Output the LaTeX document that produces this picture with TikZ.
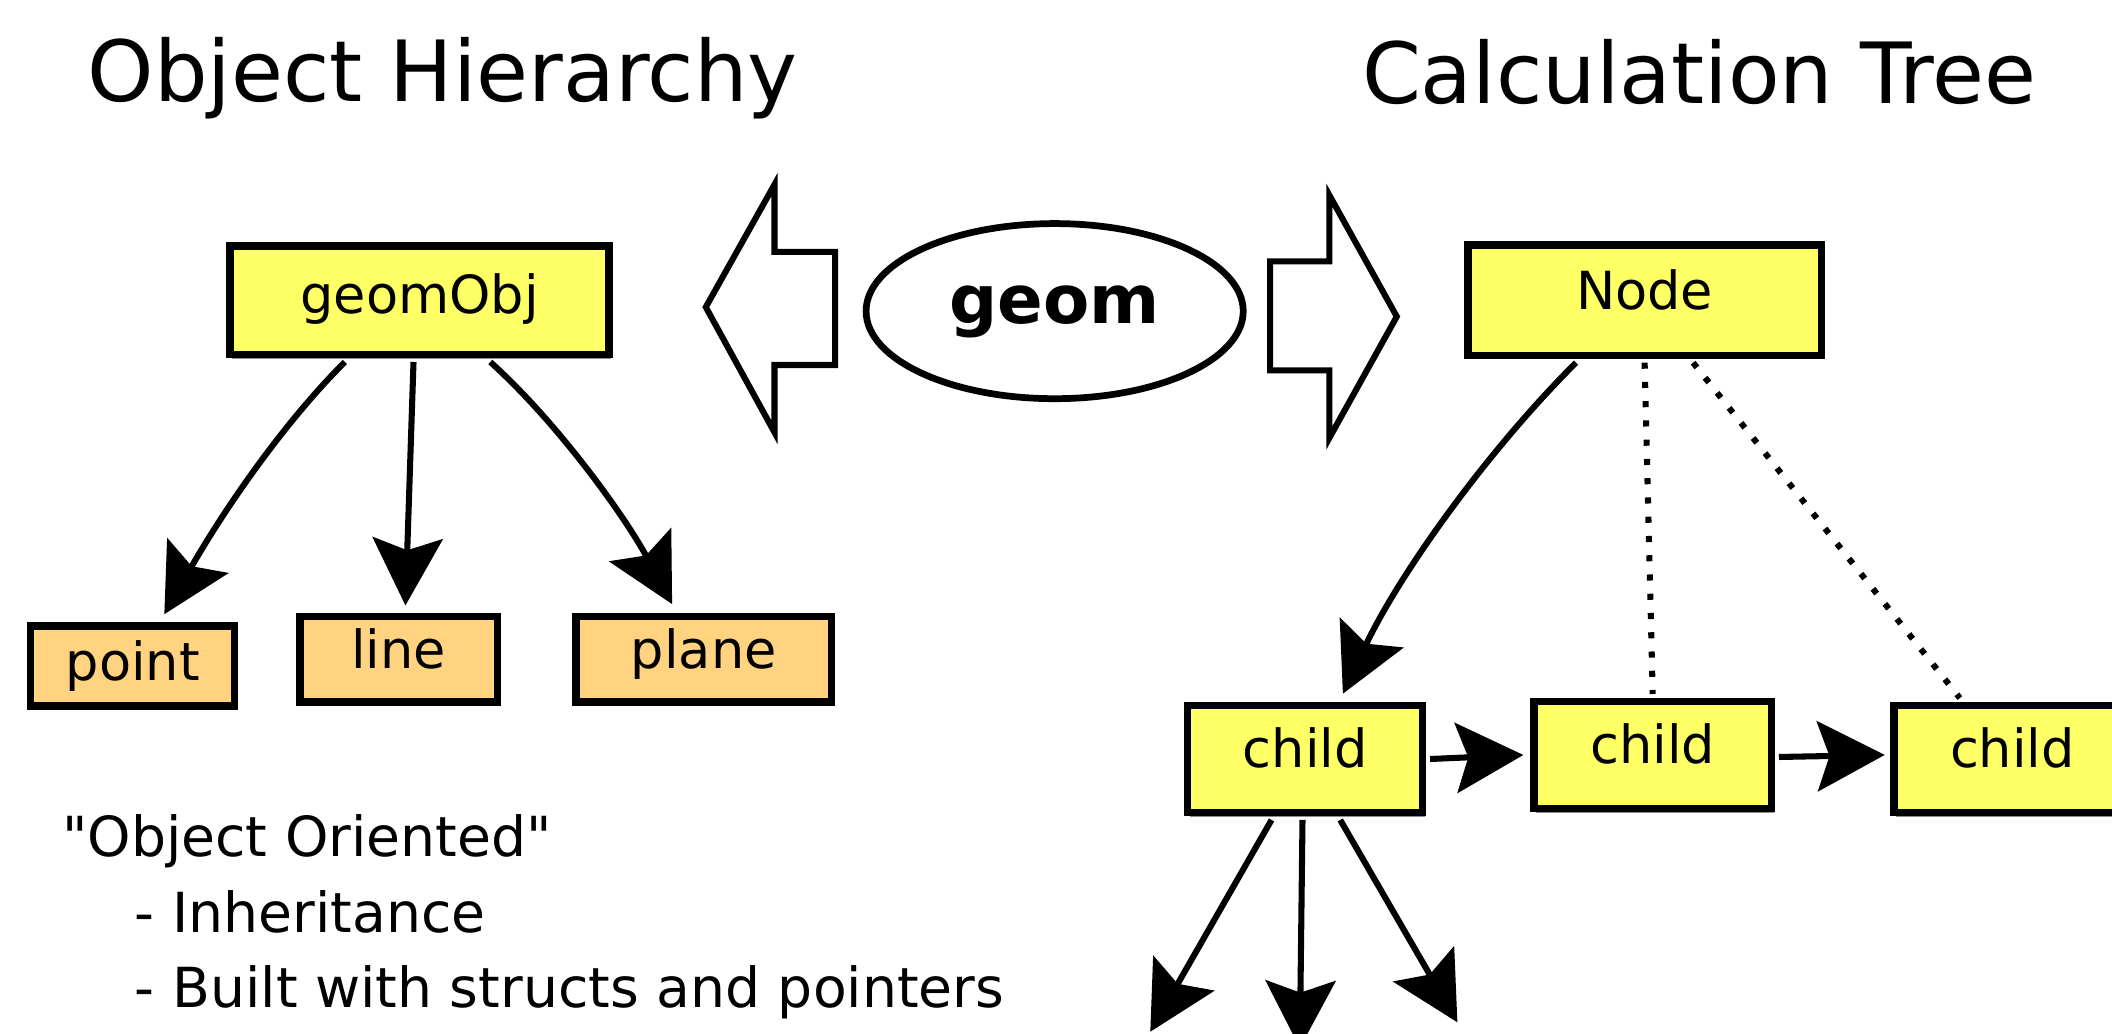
\documentclass[tikz,border=0pt]{standalone}
\usepackage{fontspec}
\setmainfont{DejaVu Sans}
\usetikzlibrary{arrows.meta,calc,shapes.geometric,shadows}

\definecolor{boxyellow}{RGB}{255,255,102}
\definecolor{boxorange}{RGB}{255,211,127}

% a straight double quote, taken as a glyph so that no TeX mapping curls it
\newcommand{\dquote}{\XeTeXglyph\XeTeXcharglyph"22\relax}

\tikzset{
  box/.style={draw=black, line width=5.5pt, fill=boxyellow, inner sep=0pt,
    font=\fontsize{39pt}{39pt}\selectfont, text depth=0pt,
    drop shadow={shadow xshift=1.5pt, shadow yshift=-3pt, fill=black!45, opacity=1}},
  leafbox/.style={box, fill=boxorange},
  link/.style={line width=4.5pt, -{Stealth[length=50pt, width=52pt, inset=9pt]}},
  dotlink/.style={line width=4.5pt, dash pattern=on 4.5pt off 9.8pt},
  blockarrow/.style={draw=black, fill=white, line width=4.5pt, line join=miter},
  title/.style={anchor=base west, inner sep=0pt, font=\fontsize{62.7pt}{62.7pt}\selectfont},
  note/.style={anchor=base west, inner sep=0pt, font=\fontsize{41pt}{41pt}\selectfont},
}

\begin{document}
\begin{tikzpicture}[x=1pt, y=-1pt]
\useasboundingbox (0,0) rectangle (1568,767);
\clip (0,0) rectangle (1568,767);

% headings
\node[title] (htitle) at (65,75) {Object Hierarchy};
\node[title] (ctitle) at (1011,77) {Calculation Tree};

% object hierarchy
\node[box, minimum width=281.5pt, minimum height=80.5pt, text height=19pt] (geomObj) at (311.5,223) {geomObj};
\node[leafbox, minimum width=151.5pt, minimum height=59.5pt, text height=21pt] (point) at (98.5,494.5) {point};
\node[leafbox, minimum width=146.5pt, minimum height=63.5pt, text height=14pt] (line) at (296,489.5) {line};
\node[leafbox, minimum width=189.5pt, minimum height=63.5pt, text height=14pt] (plane) at (522.5,489.5) {plane};

\draw[link] ($(geomObj.south)+(-55.5,2.75)$) .. controls +(-50,50) and +(40,-70) .. ($(point.north)+(23.5,-6)$);
\draw[link] ($(geomObj.south)+(-4.5,2.75)$) -- ($(line.north)+(5,-5.5)$);
\draw[link] ($(geomObj.south)+(52.5,2.75)$) .. controls +(50,45) and +(-35,-65) .. ($(plane.north)+(-23.5,-6.5)$);

% shared geometry in the middle
\node[draw, ellipse, line width=5pt, minimum width=280pt, minimum height=130pt, inner sep=0pt,
  font=\fontsize{50pt}{50pt}\selectfont\bfseries, text height=18pt, text depth=0pt] (geom) at (783,231) {geom};
\draw[blockarrow] (620,187) -- (575,187) -- (575,137) -- (524,228) -- (575,321) -- (575,271) -- (620,271) -- cycle;
\draw[blockarrow] (943,194) -- (987,194) -- (987,145) -- (1037,235) -- (987,325) -- (987,275) -- (943,275) -- cycle;

% calculation tree
\node[box, minimum width=262.5pt, minimum height=82pt, text height=14pt] (root) at (1221,222.75) {Node};
\node[box, minimum width=174.5pt, minimum height=79.5pt, text height=13pt] (c1) at (969,563.5) {child};
\node[box, minimum width=176.5pt, minimum height=79.5pt, text height=13pt] (c2) at (1227,560.5) {child};
\node[box, minimum width=176pt, minimum height=79.5pt, text height=13pt] (c3) at (1494,563.5) {child};

\draw[link] ($(root.south)+(-51,2.75)$) .. controls +(-70,70) and +(40,-85) .. ($(c1.north)+(28,-6)$);
\draw[dotlink] ($(root.south)+(0,2.75)$) -- ($(c2.north)+(0,-2.75)$);
\draw[dotlink] ($(root.south)+(36,2.75)$) -- ($(c3.north)+(-39,-2.75)$);
\draw[link] ($(c1.east)+(2.75,0)$) -- ($(c2.west)+(-5,0)$);
\draw[link] ($(c2.east)+(2.75,1.5)$) -- ($(c3.west)+(-4,-3)$);

\coordinate (d1) at (854,766);
\coordinate (d2) at (965,778);
\coordinate (d3) at (1082,759);
\draw[link] ($(c1.south)+(-25,2.75)$) -- (d1);
\draw[link] ($(c1.south)+(-2,2.75)$) -- (d2);
\draw[link] ($(c1.south)+(26,2.75)$) -- (d3);

% notes
\node[note] (n1) at (46,636) {\dquote Object Oriented\dquote};
\node[note] (n2) at (100,692) {- Inheritance};
\node[note] (n3) at (100,748) {- Built with structs and pointers};
\end{tikzpicture}
\end{document}
